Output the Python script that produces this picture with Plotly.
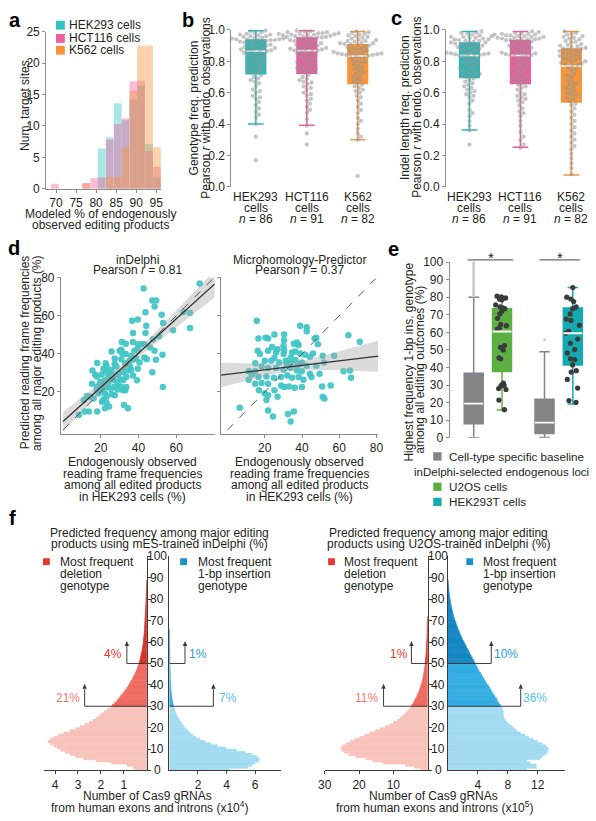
import math
import numpy as np
import plotly.graph_objects as go

W, H = 596, 821
FONT = "Liberation Sans, Arial, Helvetica, sans-serif"
TXT = "#231f20"
AXC = "#8c8c8c"
FAX = "#3c3c3c"

# ================= DATA =================
# ---- panel a: histogram of modeled % (bin centres / heights)
a_bins = [69.7, 77.5, 79.5, 81.4, 83.4, 85.4, 87.3, 89.3, 91.2, 93.2, 95.2]
a_hek293 = [0, 0, 0, 6.4, 8.2, 13.6, 10.9, 14.2, 16.4, 7.1, 1.8]
a_hct116 = [0.8, 0.9, 1.7, 1.8, 7.8, 10.3, 11.2, 17.1, 17.2, 6.0, 3.5]
a_k562 = [0, 0.9, 0, 0, 1.9, 1.9, 6.6, 15.6, 22.8, 22.8, 6.6]
a_names = ["HEK293 cells", "HCT116 cells", "K562 cells"]
a_xticks = [70, 75, 80, 85, 90, 95]
a_yticks = [0, 5, 10, 15, 20, 25]

# ---- panels b, c
bc_cells = ["HEK293", "HCT116", "K562"]
bc_n = [86, 91, 82]
b_hek293 = [0.995, 0.99, 0.985, 0.98, 0.975, 0.97, 0.97, 0.965, 0.96, 0.96, 0.955, 0.95, 0.95, 0.945, 0.945, 0.94, 0.94, 0.94, 0.935, 0.935, 0.935,
            0.93, 0.93, 0.925, 0.92, 0.92, 0.915, 0.91, 0.905, 0.90, 0.90, 0.895, 0.89, 0.885, 0.88, 0.88, 0.875, 0.87, 0.87, 0.865, 0.865, 0.86,
            0.855, 0.85, 0.845, 0.84, 0.835, 0.83, 0.82, 0.815, 0.81, 0.80, 0.80, 0.79, 0.785, 0.78, 0.77, 0.765, 0.76, 0.75, 0.745, 0.74, 0.73, 0.725,
            0.71, 0.70, 0.69, 0.68, 0.67, 0.66, 0.64, 0.62, 0.61, 0.60, 0.58, 0.57, 0.56, 0.54, 0.52, 0.50, 0.48, 0.46, 0.44, 0.40, 0.32, 0.17]
b_hct116 = [0.995, 0.99, 0.99, 0.985, 0.985, 0.98, 0.98, 0.978, 0.975, 0.975, 0.972, 0.97, 0.97, 0.968, 0.965, 0.962, 0.96, 0.958, 0.955, 0.955, 0.952, 0.95, 0.95,
            0.945, 0.94, 0.935, 0.93, 0.93, 0.925, 0.92, 0.915, 0.91, 0.905, 0.90, 0.90, 0.895, 0.89, 0.885, 0.88, 0.88, 0.875, 0.875, 0.87, 0.87, 0.868,
            0.86, 0.855, 0.85, 0.845, 0.84, 0.835, 0.83, 0.82, 0.815, 0.81, 0.80, 0.795, 0.79, 0.78, 0.775, 0.77, 0.76, 0.755, 0.75, 0.745, 0.74, 0.73, 0.725,
            0.715, 0.70, 0.69, 0.68, 0.67, 0.665, 0.655, 0.64, 0.63, 0.62, 0.60, 0.59, 0.58, 0.56, 0.55, 0.53, 0.51, 0.49, 0.47, 0.43, 0.39, 0.34, 0.27]
b_k562 = [0.99, 0.985, 0.98, 0.975, 0.97, 0.965, 0.96, 0.955, 0.95, 0.945, 0.94, 0.935, 0.93, 0.93, 0.925, 0.92, 0.915, 0.915, 0.91, 0.91,
          0.905, 0.90, 0.895, 0.89, 0.885, 0.88, 0.875, 0.87, 0.865, 0.86, 0.855, 0.855, 0.85, 0.85, 0.85, 0.845, 0.845, 0.84, 0.84, 0.835, 0.835,
          0.83, 0.825, 0.82, 0.81, 0.80, 0.795, 0.79, 0.78, 0.77, 0.76, 0.75, 0.74, 0.73, 0.72, 0.71, 0.70, 0.69, 0.68, 0.67, 0.66,
          0.65, 0.64, 0.63, 0.62, 0.61, 0.60, 0.58, 0.57, 0.55, 0.53, 0.51, 0.49, 0.47, 0.44, 0.42, 0.40, 0.37, 0.34, 0.32, 0.30, 0.07]
b_q1 = [0.72, 0.724, 0.659]
b_med = [0.865, 0.868, 0.833]
b_q3 = [0.935, 0.948, 0.906]
b_lo = [0.40, 0.393, 0.30]
b_hi = [0.995, 0.995, 0.99]

c_hek293 = [0.99, 0.985, 0.98, 0.975, 0.97, 0.965, 0.96, 0.955, 0.955, 0.95, 0.95, 0.945, 0.94, 0.94, 0.935, 0.93, 0.93, 0.925, 0.92, 0.92, 0.918,
            0.912, 0.91, 0.905, 0.90, 0.90, 0.895, 0.89, 0.885, 0.88, 0.875, 0.87, 0.865, 0.86, 0.855, 0.85, 0.85, 0.845, 0.845, 0.84, 0.84, 0.838, 0.836,
            0.83, 0.82, 0.815, 0.81, 0.80, 0.795, 0.79, 0.78, 0.775, 0.77, 0.76, 0.755, 0.75, 0.74, 0.735, 0.73, 0.72, 0.715, 0.71, 0.705, 0.70,
            0.69, 0.68, 0.67, 0.66, 0.65, 0.64, 0.63, 0.62, 0.61, 0.60, 0.59, 0.58, 0.57, 0.55, 0.53, 0.49, 0.47, 0.45, 0.42, 0.39, 0.36, 0.27]
c_hct116 = [0.99, 0.985, 0.98, 0.98, 0.975, 0.975, 0.97, 0.97, 0.965, 0.965, 0.96, 0.96, 0.955, 0.955, 0.95, 0.95, 0.945, 0.945, 0.94, 0.94, 0.94, 0.935, 0.935,
            0.93, 0.925, 0.92, 0.915, 0.91, 0.905, 0.90, 0.895, 0.89, 0.885, 0.88, 0.875, 0.87, 0.865, 0.86, 0.855, 0.85, 0.85, 0.845, 0.84, 0.84, 0.838,
            0.835, 0.83, 0.82, 0.81, 0.80, 0.795, 0.79, 0.78, 0.77, 0.76, 0.755, 0.75, 0.74, 0.73, 0.72, 0.71, 0.70, 0.695, 0.69, 0.68, 0.675, 0.67, 0.66,
            0.65, 0.64, 0.63, 0.62, 0.60, 0.59, 0.58, 0.57, 0.56, 0.55, 0.54, 0.52, 0.50, 0.48, 0.47, 0.45, 0.42, 0.39, 0.35, 0.32, 0.30, 0.27, 0.25]
c_k562 = [0.99, 0.98, 0.975, 0.97, 0.96, 0.955, 0.95, 0.945, 0.94, 0.93, 0.925, 0.92, 0.91, 0.905, 0.90, 0.895, 0.89, 0.885, 0.88, 0.88,
          0.875, 0.87, 0.865, 0.86, 0.855, 0.85, 0.845, 0.84, 0.835, 0.83, 0.825, 0.82, 0.815, 0.81, 0.80, 0.80, 0.79, 0.785, 0.78, 0.775, 0.772,
          0.76, 0.75, 0.74, 0.72, 0.71, 0.70, 0.68, 0.67, 0.66, 0.65, 0.64, 0.63, 0.62, 0.61, 0.60, 0.59, 0.58, 0.57, 0.56, 0.545,
          0.53, 0.52, 0.50, 0.48, 0.46, 0.44, 0.42, 0.40, 0.38, 0.36, 0.34, 0.32, 0.30, 0.28, 0.26, 0.24, 0.21, 0.18, 0.15, 0.12, 0.08]
c_q1 = [0.697, 0.659, 0.54]
c_med = [0.837, 0.837, 0.77]
c_q3 = [0.916, 0.933, 0.879]
c_lo = [0.362, 0.253, 0.075]
c_hi = [0.99, 0.99, 0.99]
bc_yticks = [0.0, 0.2, 0.4, 0.6, 0.8, 1.0]

# ---- panel d: (observed, predicted) pairs
d_indelphi = [(42.7, 74.3), (72.4, 76.9), (49.4, 68.0), (47.3, 68.0), (48.5, 64.9), (63.8, 62.0), (43.7, 61.9), (67.3, 61.4),
              (36.6, 57.4), (39.6, 58.0), (52.3, 60.5), (53.1, 56.2), (58.3, 52.4), (44.1, 54.8), (37.1, 51.0), (43.7, 51.0),
              (67.3, 53.6), (31.2, 46.2), (37.0, 46.2), (33.2, 45.3), (39.6, 45.0), (41.3, 45.0), (43.1, 45.0), (47.7, 47.6),
              (50.9, 49.3), (46.1, 43.3), (48.5, 41.6), (52.7, 39.5), (39.6, 42.4), (43.1, 38.1), (44.4, 37.2), (49.2, 36.9),
              (30.9, 42.1), (31.4, 40.3), (25.7, 41.2), (27.4, 37.6), (30.9, 37.2), (33.0, 35.0), (35.2, 36.4), (37.0, 36.9),
              (38.7, 37.6), (40.5, 35.5), (27.4, 34.7), (22.6, 35.0), (18.1, 35.2), (21.4, 32.1), (22.8, 31.2), (15.6, 31.2),
              (17.1, 29.0), (20.5, 29.1), (24.0, 28.6), (25.7, 29.5), (29.2, 29.5), (31.8, 30.3), (34.4, 31.2), (36.1, 31.6),
              (39.6, 32.1), (33.5, 27.8), (37.0, 28.6), (39.2, 26.1), (30.1, 26.9), (31.8, 26.1), (26.8, 26.4), (22.2, 26.1),
              (19.7, 25.2), (15.3, 24.3), (18.1, 22.9), (20.6, 23.4), (23.1, 22.6), (27.4, 22.9), (30.9, 22.6), (33.5, 22.6),
              (33.0, 20.9), (17.9, 28.1), (47.3, 30.3), (52.9, 22.6), (32.3, 13.1), (34.4, 11.4), (11.0, 15.7), (12.7, 17.8),
              (14.5, 17.4), (16.2, 16.6), (18.8, 19.1), (22.2, 19.1), (23.1, 17.4), (25.7, 18.8), (21.4, 16.0), (20.6, 14.8),
              (23.1, 14.3), (24.4, 12.3), (22.2, 11.4), (18.1, 9.7), (11.5, 9.7), (13.7, 9.7), (8.4, 7.9), (24.0, 24.3),
              (25.3, 21.7), (20.6, 20.9), (17.9, 20.9), (27.4, 18.3), (28.8, 21.2), (31.8, 20.9), (30.0, 41.6), (33.2, 39.9),
              (28.3, 33.3), (25.7, 31.6), (23.1, 33.3), (36.1, 38.8), (37.8, 41.6), (29.0, 24.5), (26.0, 27.0), (35.5, 33.5)]
d_mhpred = [(15.7, 57.4), (20.4, 48.4), (16.6, 48.1), (21.8, 48.1), (25.2, 50.2), (30.4, 50.2), (30.4, 47.1), (39.0, 54.8),
            (42.5, 54.0), (42.5, 51.9), (47.7, 48.4), (46.8, 48.1), (48.5, 45.0), (35.6, 45.3), (37.3, 45.9), (38.2, 44.7),
            (64.9, 49.7), (71.0, 46.4), (16.2, 41.6), (17.4, 39.9), (21.8, 41.6), (24.0, 43.6), (26.9, 42.4), (26.1, 40.7),
            (30.4, 41.9), (30.1, 39.9), (34.7, 40.7), (39.0, 40.2), (41.6, 39.5), (45.9, 40.2), (44.2, 38.5), (51.1, 39.0),
            (57.2, 39.0), (51.8, 35.5), (47.7, 33.8), (14.9, 35.0), (20.0, 36.4), (23.5, 36.4), (25.2, 37.8), (27.8, 35.5),
            (31.3, 36.4), (33.9, 35.5), (36.4, 36.7), (39.0, 34.7), (42.5, 33.8), (18.3, 33.3), (21.8, 32.6), (26.1, 32.6),
            (30.1, 31.6), (33.9, 32.6), (37.3, 31.2), (39.9, 30.9), (44.2, 29.5), (49.4, 29.5), (62.3, 30.9), (65.8, 31.2),
            (66.3, 27.4), (13.1, 29.1), (11.4, 26.4), (16.6, 27.8), (20.9, 28.1), (24.9, 27.4), (28.7, 27.8), (32.1, 28.6),
            (34.7, 27.4), (38.2, 27.8), (40.8, 26.4), (14.9, 24.3), (18.3, 24.7), (21.8, 24.3), (28.7, 23.4), (30.4, 22.6),
            (33.0, 22.9), (36.1, 22.2), (39.9, 22.6), (45.1, 27.8), (50.8, 22.9), (55.4, 23.4), (51.1, 17.4), (52.0, 16.6),
            (16.9, 20.9), (20.0, 19.1), (21.8, 18.3), (20.9, 15.7), (25.2, 20.9), (26.9, 17.4), (21.8, 10.2), (24.4, 7.1),
            (6.6, 11.7), (32.5, 8.4), (35.6, 9.7), (33.9, 4.5), (11.4, 30.9), (14.9, 30.9), (33.9, 38.1), (31.8, 34.7),
            (37.3, 33.8), (39.9, 35.5), (36.4, 41.2), (30.1, 44.2)]
d_titles = ["inDelphi", "Microhomology-Predictor"]
d_r = ["0.81", "0.37"]

# ---- panel e
e_groups = ["baseline U2OS", "U2OS cells", "baseline HEK293T", "HEK293T cells"]
e_q1 = [8.0, 37.8, 2.4, 41.5]
e_med = [19.5, 60.5, 8.7, 59.5]
e_q3 = [36.7, 73.5, 22.0, 73.9]
e_lo = [0.0, 15.8, 0.2, 19.2]
e_hi = [80.0, 80.6, 49.0, 85.6]
e_base1_outliers = [80.6, 81.4, 82.2, 83.0, 83.9, 84.7, 85.5, 86.4, 87.2, 88.1, 89.0, 89.8, 90.7, 91.6, 92.4,
                    93.3, 94.2, 95.1, 96.0, 96.9, 97.8, 98.7, 99.5]
e_base2_outliers = [55.8]
e_u2os = [80.6, 80.2, 79.5, 78.8, 78.5, 75.6, 74.5, 74.0, 73.5, 72.0, 70.5, 68.0, 64.5, 63.8, 62.5, 61.8,
          52.5, 51.5, 50.0, 45.5, 45.0, 31.2, 30.2, 29.8, 29.5, 28.0, 27.5, 21.5, 16.0]
e_hek293t = [85.5, 80.0, 79.0, 77.5, 74.5, 73.5, 70.5, 67.6, 66.8, 64.0, 60.6, 59.6, 56.2, 53.8, 50.2, 48.2,
             45.0, 44.5, 41.5, 38.2, 37.4, 33.2, 28.3, 21.2, 20.2]
e_yticks = [0, 10, 20, 30, 40, 50, 60, 70, 80, 90, 100]

# ---- panel f: per-1% bins of predicted frequency, counts of gRNAs
f_mes_del = [0.5, 0.6, 0.85, 1.55, 2.2, 2.75, 3.1, 3.35, 3.55, 3.75,
             3.9, 4.05, 4.2, 4.3, 4.2, 4.05, 3.85, 3.6, 3.35, 3.1,
             2.9, 2.7, 2.5, 2.35, 2.2, 2.07, 1.97, 1.86, 1.72, 1.6,
             1.5, 1.4, 1.3, 1.22, 1.15, 1.08, 1.0, 0.93, 0.87, 0.8,
             0.75, 0.7, 0.64, 0.6, 0.55, 0.5, 0.46, 0.42, 0.39, 0.36,
             0.33, 0.3, 0.28, 0.26, 0.24, 0.22, 0.2, 0.19, 0.17, 0.16,
             0.15, 0.14, 0.13, 0.12, 0.115, 0.11, 0.1, 0.095, 0.09, 0.085,
             0.08, 0.075, 0.07, 0.065, 0.06, 0.055, 0.05, 0.045, 0.04, 0.035,
             0.03, 0.027, 0.024, 0.02, 0.017, 0.014, 0.01, 0.007, 0.004]
f_mes_ins = [4.2, 5.5, 5.8, 6.0, 6.25, 6.3, 6.1, 5.8, 5.3, 4.7,
             3.95, 3.35, 2.9, 2.5, 2.15, 1.85, 1.62, 1.44, 1.3, 1.16,
             1.02, 0.9, 0.8, 0.7, 0.6, 0.53, 0.46, 0.4, 0.35, 0.31,
             0.27, 0.24, 0.21, 0.18, 0.16, 0.14, 0.125, 0.11, 0.1, 0.09,
             0.08, 0.072, 0.065, 0.06, 0.055, 0.05, 0.046, 0.042, 0.038, 0.035,
             0.032, 0.029, 0.026, 0.024, 0.022, 0.02, 0.018, 0.016, 0.014, 0.013,
             0.012, 0.01, 0.009, 0.008, 0.006, 0.005]
f_u2os_del = [2.0, 3.8, 6.5, 13.0, 16.0, 18.0, 21.0, 23.0, 24.3, 25.0,
              25.3, 24.8, 23.8, 22.5, 21.2, 19.8, 18.3, 16.8, 15.3, 13.8,
              12.3, 11.0, 9.9, 8.9, 8.0, 7.3, 6.6, 6.0, 5.5, 5.0,
              4.6, 4.2, 3.8, 3.5, 3.2, 2.9, 2.65, 2.4, 2.2, 2.0,
              1.8, 1.65, 1.5, 1.35, 1.22, 1.1, 1.0, 0.92, 0.84, 0.76,
              0.7, 0.64, 0.58, 0.52, 0.47, 0.43, 0.39, 0.35, 0.32, 0.29,
              0.26, 0.23, 0.21, 0.19, 0.17, 0.15, 0.13, 0.11, 0.1, 0.08,
              0.06, 0.04]
f_u2os_ins = [10.5, 11.8, 11.8, 11.0, 10.5, 12.3, 12.6, 13.0, 13.3, 13.4,
              13.4, 13.1, 12.6, 12.0, 11.4, 10.8, 10.3, 9.7, 9.2, 8.9,
              8.6, 8.2, 7.9, 7.7, 7.5, 7.4, 7.4, 7.4, 7.3, 7.2,
              7.0, 6.8, 6.6, 6.5, 6.3, 6.1, 5.9, 5.75, 5.6, 5.4,
              5.2, 5.0, 4.85, 4.7, 4.5, 4.35, 4.15, 4.0, 3.85, 3.7,
              3.55, 3.4, 3.25, 3.1, 2.95, 2.8, 2.65, 2.5, 2.35, 2.2,
              2.05, 1.9, 1.78, 1.65, 1.53, 1.42, 1.3, 1.2, 1.1, 1.0,
              0.9, 0.8, 0.72, 0.65, 0.58, 0.52, 0.46, 0.4, 0.35, 0.3,
              0.26, 0.22, 0.18, 0.15, 0.12, 0.09, 0.06, 0.04, 0.02]
f_pct_mes = {"del30": "21%", "del50": "4%", "ins30": "7%", "ins50": "1%"}
f_pct_u2os = {"del30": "11%", "del50": "1%", "ins30": "36%", "ins50": "10%"}
f_yticks = [0, 10, 20, 30, 40, 50, 60, 70, 80, 90, 100]

# ================= STYLE =================
C_HEK = "#27b9b9"
C_HCT = "#ec5c9d"
C_K562 = "#f6953b"
C_A = ["#34c3c3", "#f0609e", "#f7923a"]
C_D = "#3ec4c4"
C_EG = "#828487"
C_EGREEN = "#5cb043"
C_ETEAL = "#14aab0"
DEL_C = ["#f8c3bb", "#ee6a5f", "#dc2f26"]
INS_C = ["#a3dbf1", "#33ade2", "#1486c4"]
DEL_TXT = ["#f07b70", "#e5392f"]
INS_TXT = ["#52bfea", "#1f9bd6"]


def px(x):
    return x / W


def py(y):
    return 1 - y / H


ann = []
shapes = []


def T(x, y, s, size=12, xa="center", ya="middle", angle=0, color=TXT):
    ann.append(dict(x=px(x), y=py(y), xref="paper", yref="paper", text=s, showarrow=False,
                    xanchor=xa, yanchor=ya, textangle=angle,
                    font=dict(size=size, color=color, family=FONT)))


def square(x0, x1, y0, y1, color):
    shapes.append(dict(type="rect", xref="paper", yref="paper", x0=px(x0), x1=px(x1),
                       y0=py(y1), y1=py(y0), fillcolor=color, line=dict(width=0)))


def axis(dom, rng, **kw):
    d = dict(domain=dom, range=rng, showgrid=False, zeroline=False, showline=True,
             linecolor=AXC, linewidth=1, ticks="outside", ticklen=3, tickcolor=AXC,
             tickfont=dict(size=12, color=TXT, family=FONT), fixedrange=True)
    d.update(kw)
    return d


def swarm(vals, dpx, yscale, xscale):
    order = sorted(range(len(vals)), key=lambda i: vals[i])
    placed = []
    offs = [0.0] * len(vals)
    for i in order:
        y = vals[i] * yscale
        cands = [0.0]
        for (qx, qy) in placed:
            dy = y - qy
            if abs(dy) < dpx:
                dx = math.sqrt(dpx * dpx - dy * dy)
                cands += [qx + dx, qx - dx]
        cands.sort(key=abs)
        for c in cands:
            if all((c - qx) ** 2 + (y - qy) ** 2 >= dpx * dpx - 1e-6 for (qx, qy) in placed):
                break
        placed.append((c, y))
        offs[i] = c / xscale
    return offs


fig = go.Figure()

# ================= PANEL a =================
for vals, col, nm in zip([a_hek293, a_hct116, a_k562], C_A, a_names):
    fig.add_trace(go.Bar(x=a_bins, y=vals, width=1.95, marker=dict(color=col, line=dict(width=0)),
                         opacity=0.42, name=nm, xaxis="x", yaxis="y"))
for i, (nm, col) in enumerate(zip(a_names, C_A)):
    yc = [18.5, 32.0, 44.0][i]
    square(50, 59, yc - 4.5, yc + 4.5, col)
    T(61.5, yc, nm, xa="left")
T(95, 211, "Modeled % of endogenously")
T(95, 222, "observed editing products")
T(19, 100, "Num. target sites", angle=-90)

# ================= PANELS b, c =================
BW = 0.385
for panel, groups, q1, med, q3, lo, hi, xa, ya in [
        ("b", [b_hek293, b_hct116, b_k562], b_q1, b_med, b_q3, b_lo, b_hi, "x2", "y2"),
        ("c", [c_hek293, c_hct116, c_k562], c_q1, c_med, c_q3, c_lo, c_hi, "x3", "y3")]:
    for k, col in enumerate([C_HEK, C_HCT, C_K562]):
        fig.add_trace(go.Box(x=[k], q1=[q1[k]], median=[med[k]], q3=[q3[k]], lowerfence=[lo[k]],
                             upperfence=[hi[k]], width=BW, whiskerwidth=0.8, fillcolor=col,
                             line=dict(color=col, width=1.5), boxpoints=False, xaxis=xa, yaxis=ya))
    mx, my = [], []
    for k in range(3):
        mx += [k - BW / 2, k + BW / 2, None]
        my += [med[k], med[k], None]
    fig.add_trace(go.Scatter(x=mx, y=my, mode="lines", line=dict(color="white", width=1.8),
                             xaxis=xa, yaxis=ya, hoverinfo="skip"))
    for k, vals in enumerate(groups):
        offs = swarm(vals, 4.5, 160.0, 52.0)
        fig.add_trace(go.Scatter(x=[k + o for o in offs], y=vals, mode="markers",
                                 marker=dict(size=4.3, color="rgba(150,150,150,0.55)"),
                                 cliponaxis=False, xaxis=xa, yaxis=ya))

# category labels b / c
for centers in ([254, 306, 358], [472, 524, 576]):
    for k, cx in enumerate(centers):
        T(cx, 193, bc_cells[k])
        T(cx, 204.5, "cells")
        T(cx, 216, "<i>n</i> = %d" % bc_n[k])
T(191, 103, "Genotype freq. prediction", angle=-90)
T(203.5, 103, "Pearson <i>r</i> with endo. observations", angle=-90)
T(406, 102, "Indel length freq. prediction", angle=-90)
T(419, 102, "Pearson <i>r</i> with endo. observations", angle=-90)

# ================= PANEL d =================
def fit_band(pts, xg):
    x = np.array([p[0] for p in pts])
    y = np.array([p[1] for p in pts])
    n = len(x)
    b1, b0 = np.polyfit(x, y, 1)
    res = y - (b0 + b1 * x)
    s = np.sqrt(np.sum(res ** 2) / (n - 2))
    sxx = np.sum((x - x.mean()) ** 2)
    se = s * np.sqrt(1.0 / n + (xg - x.mean()) ** 2 / sxx)
    f = b0 + b1 * xg
    return f, f - 1.98 * se, f + 1.98 * se


for pts, xa, ya, xr in [(d_indelphi, "x4", "y4", (0.0, 80.4)), (d_mhpred, "x5", "y5", (-3.7, 81.0))]:
    fig.add_trace(go.Scatter(x=[p[0] for p in pts], y=[p[1] for p in pts], mode="markers",
                             marker=dict(size=6.5, color=C_D, opacity=0.92), xaxis=xa, yaxis=ya))
    xg = np.linspace(xr[0], xr[1], 120)
    f, lo_, hi_ = fit_band(pts, xg)
    fig.add_trace(go.Scatter(x=xg, y=hi_, mode="lines", line=dict(width=0), xaxis=xa, yaxis=ya,
                             hoverinfo="skip"))
    fig.add_trace(go.Scatter(x=xg, y=lo_, mode="lines", line=dict(width=0), fill="tonexty",
                             fillcolor="rgba(165,165,165,0.4)", xaxis=xa, yaxis=ya, hoverinfo="skip"))
    fig.add_trace(go.Scatter(x=[0, 80.5], y=[0, 80.5], mode="lines",
                             line=dict(color="#555555", width=1, dash="8px,9px"), xaxis=xa, yaxis=ya))
    fig.add_trace(go.Scatter(x=xg, y=f, mode="lines", line=dict(color="#333333", width=1.3),
                             xaxis=xa, yaxis=ya))

for cx, ttl, r in zip([133, 299], d_titles, d_r):
    T(cx, 257, ttl)
    T(cx, 267.5, "Pearson <i>r</i> = " + r)
    for j, line in enumerate(["Endogenously observed", "reading frame frequencies",
                              "among all edited products", "in HEK293 cells (%)"]):
        T(cx - 5 if cx == 133 else cx, [462.7, 475, 486.7, 498.3][j], line)
T(18.5, 352, "Predicted reading frame frequencies", angle=-90)
T(30.5, 352, "among all major editing products (%)", angle=-90)

# ================= PANEL e =================
e_pos = [0, 1, 2.5, 3.5]
EW = 0.67
e_cols = [C_EG, C_EGREEN, C_EG, C_ETEAL]
for k in range(4):
    fig.add_trace(go.Box(x=[e_pos[k]], q1=[e_q1[k]], median=[e_med[k]], q3=[e_q3[k]],
                         lowerfence=[e_lo[k]], upperfence=[e_hi[k]], width=EW, whiskerwidth=0.55,
                         fillcolor=e_cols[k], line=dict(color=e_cols[k], width=1.5),
                         boxpoints=False, xaxis="x6", yaxis="y6"))
mx, my = [], []
for k in range(4):
    mx += [e_pos[k] - EW / 2, e_pos[k] + EW / 2, None]
    my += [e_med[k], e_med[k], None]
fig.add_trace(go.Scatter(x=mx, y=my, mode="lines", line=dict(color="white", width=1.8),
                         xaxis="x6", yaxis="y6", hoverinfo="skip"))
fig.add_trace(go.Scatter(x=[e_pos[0]] * len(e_base1_outliers), y=e_base1_outliers, mode="markers",
                         marker=dict(size=2.8, color="#c9c9c9"), xaxis="x6", yaxis="y6", cliponaxis=False))
fig.add_trace(go.Scatter(x=[e_pos[2]] * len(e_base2_outliers), y=e_base2_outliers, mode="markers",
                         marker=dict(size=2.8, color="#c9c9c9"), xaxis="x6", yaxis="y6", cliponaxis=False))
for k, vals in [(1, e_u2os), (3, e_hek293t)]:
    fig.add_trace(go.Box(x=[e_pos[k]] * len(vals), y=vals, width=EW, boxpoints="all", jitter=0.85,
                         pointpos=0, fillcolor="rgba(0,0,0,0)", line=dict(width=0),
                         marker=dict(size=5.2, color="#3b3b3b"), xaxis="x6", yaxis="y6"))
# significance
shapes.append(dict(type="line", xref="paper", yref="paper", x0=px(470), x1=px(516.7), y0=py(257.3),
                   y1=py(257.3), line=dict(color="#6d6d6d", width=1.2)))
shapes.append(dict(type="line", xref="paper", yref="paper", x0=px(543.3), x1=px(585), y0=py(257.3),
                   y1=py(257.3), line=dict(color="#6d6d6d", width=1.2)))
T(494.3, 255, "*", size=15)
T(564, 255, "*", size=15)
T(410, 361, "Highest frequency 1-bp ins. genotype", angle=-90)
T(421.5, 369, "among all editing outcomes (%)", angle=-90)
square(435, 443.5, 453, 461.5, C_EG)
T(449.3, 457.5, "Cell-type specific baseline", xa="left", size=11.7)
T(413.5, 472.7, "inDelphi-selected endogenous loci", xa="left", size=11.5)
square(435, 443.5, 483.8, 492.3, C_EGREEN)
T(449.3, 488, "U2OS cells", xa="left", size=11.7)
square(435, 443.5, 499.3, 507.8, C_ETEAL)
T(449.3, 503.5, "HEK293T cells", xa="left", size=11.7)

# ================= PANEL f =================
def fcolors(n, pal):
    out = []
    for i in range(n):
        c = i + 0.5
        out.append(pal[0] if c < 30 else (pal[1] if c < 50 else pal[2]))
    return out


for vals, pal, xa, ya in [(f_mes_del, DEL_C, "x7", "y7"), (f_mes_ins, INS_C, "x8", "y8"),
                          (f_u2os_del, DEL_C, "x9", "y9"), (f_u2os_ins, INS_C, "x10", "y10")]:
    yb = [i + 0.5 for i in range(len(vals))]
    cols = fcolors(len(vals), pal)
    fig.add_trace(go.Bar(y=yb, x=vals, orientation="h", width=1.0,
                         marker=dict(color=cols, line=dict(width=0.6, color=cols)),
                         xaxis=xa, yaxis=ya))

# threshold arrows: (axis, x position of the vertical arrow, threshold)
f_arrows = [("x7", "y7", 2.71, 30), ("x7", "y7", 0.87, 50), ("x8", "y8", 1.09, 50), ("x8", "y8", 3.08, 30),
            ("x9", "y9", 12.86, 30), ("x9", "y9", 4.74, 50), ("x10", "y10", 5.8, 50), ("x10", "y10", 9.74, 30)]
xpx_per_unit = {"x7": 105.4 / 4.5, "x8": 113.5 / 7.8, "x9": 105.0 / 30, "x10": 119.0 / 15.6}
ypx_per_unit = 217.7 / 100
for xa, ya, xv, thr in f_arrows:
    shapes.append(dict(type="line", xref=xa, yref=ya, x0=0, x1=xv, y0=thr, y1=thr,
                       line=dict(color=FAX, width=1), layer="above"))
    tip = thr + 10.5
    hh = 5.0 / ypx_per_unit
    hw = 2.3 / xpx_per_unit[xa]
    shapes.append(dict(type="line", xref=xa, yref=ya, x0=xv, x1=xv, y0=thr, y1=tip - hh,
                       line=dict(color=FAX, width=1), layer="above"))
    shapes.append(dict(type="path", xref=xa, yref=ya, layer="above", fillcolor=FAX, line=dict(width=0),
                       path="M %f,%f L %f,%f L %f,%f Z" % (xv - hw, tip - hh, xv + hw, tip - hh, xv, tip)))

# percentage labels
T(77, 702.7, f_pct_mes["del30"], xa="right", color=DEL_TXT[0])
T(108, 658.3, f_pct_mes["del50"], color=DEL_TXT[1])
T(195, 658.3, f_pct_mes["ins50"], color=INS_TXT[1])
T(225.7, 702.7, f_pct_mes["ins30"], color=INS_TXT[0])
T(367, 702.7, f_pct_u2os["del30"], color=DEL_TXT[0])
T(400.3, 658.3, f_pct_u2os["del50"], color=DEL_TXT[1])
T(509.5, 658.3, f_pct_u2os["ins50"], color=INS_TXT[1])
T(539.3, 702.7, f_pct_u2os["ins30"], color=INS_TXT[0])

# central y tick labels
for cx, ya in [(153.5, "y7"), (440, "y9")]:
    for v in f_yticks:
        ann.append(dict(x=px(cx), y=v, xref="paper", yref=ya, text=str(v), showarrow=False,
                        xanchor="center", yanchor="middle", font=dict(size=12, color=TXT, family=FONT)))

# titles and legends
T(156, 535, "Predicted frequency among major editing")
T(155.5, 546, "products using mES-trained inDelphi (%)")
T(440.3, 535, "Predicted frequency among major editing")
T(440, 546, "products using U2OS-trained inDelphi (%)")
for sx, tx, col, lines in [(36.7, 51.7, "#e5392f", ["Most frequent", "deletion", "genotype"]),
                           (176.7, 192.7, "#1b93d1", ["Most frequent", "1-bp insertion", "genotype"]),
                           (327.7, 342, "#e5392f", ["Most frequent", "deletion", "genotype"]),
                           (468.7, 483.3, "#1b93d1", ["Most frequent", "1-bp insertion", "genotype"])]:
    square(sx, sx + 7, 560.8, 567.8, col)
    for j, ln in enumerate(lines):
        T(tx, [564.5, 576.7, 589][j], ln, xa="left")
T(143.3, 802.7, "Number of Cas9 gRNAs")
T(145, 813.5, "from human exons and introns (x10<sup>4</sup>)")
T(435.3, 802.7, "Number of Cas9 gRNAs")
T(436, 813.5, "from human exons and introns (x10<sup>5</sup>)")

# panel letters
for ch, x, y in [("a", 8, 13), ("b", 185, 13), ("c", 397, 11), ("d", 7, 245), ("e", 394, 246), ("f", 6, 520)]:
    T(x, y, "<b>%s</b>" % ch, size=20, color="#000000")

# ================= LAYOUT =================
ydom_bc = [py(183), py(23.3)]
ydom_d = [py(434), py(275)]
ydom_f = [py(776.7), py(559)]
layout = dict(
    width=W, height=H, margin=dict(l=0, r=0, t=0, b=0), showlegend=False,
    paper_bgcolor="white", plot_bgcolor="white", barmode="overlay", boxmode="overlay",
    font=dict(family=FONT, size=12, color=TXT),
    xaxis=axis([px(40), px(157)], [67.55, 96.15], anchor="y", tickvals=a_xticks),
    yaxis=axis([py(185), py(25)], [0, 25], anchor="x", tickvals=a_yticks),
    xaxis2=axis([px(229), px(385)], [-0.48, 2.52], anchor="y2", visible=False),
    yaxis2=axis(ydom_bc, [0, 1], anchor="x2", tickvals=bc_yticks, tickformat=".1f"),
    xaxis3=axis([px(448), px(596)], [-0.46, 2.385], anchor="y3", visible=False),
    yaxis3=axis(ydom_bc, [0, 1], anchor="x3", tickvals=bc_yticks, tickformat=".1f"),
    xaxis4=axis([px(55), px(212)], [-1.14, 80.4], anchor="y4", tickvals=[20, 40, 60]),
    yaxis4=axis(ydom_d, [-1.9, 80.2], anchor="x4", tickvals=[20, 40, 60, 80]),
    xaxis5=axis([px(218), px(379)], [-3.7, 81.0], anchor="y5", tickvals=[20, 40, 60, 80]),
    yaxis5=axis(ydom_d, [-1.9, 80.2], anchor="x5", tickvals=[20, 40, 60, 80], showticklabels=False),
    xaxis6=axis([px(451.7), px(594.8)], [-0.85, 4.1], anchor="y6", visible=False),
    yaxis6=axis([py(438.3), py(259.5)], [0, 100], anchor="x6", tickvals=e_yticks),
    xaxis7=axis([px(37.3), px(142.7)], [4.5, 0], anchor="y7", tickvals=[1, 2, 3, 4], linecolor=FAX, tickcolor=FAX),
    yaxis7=axis(ydom_f, [0, 100], anchor="x7", side="right", tickvals=f_yticks, showticklabels=False,
                linecolor=FAX, tickcolor=FAX),
    xaxis8=axis([px(165.8), px(279.3)], [0, 7.8], anchor="y8", tickvals=[2, 4, 6], linecolor=FAX, tickcolor=FAX),
    yaxis8=axis(ydom_f, [0, 100], anchor="x8", ticks="", showticklabels=False, linecolor=FAX),
    xaxis9=axis([px(324.3), px(429.3)], [30, 0], anchor="y9", tickvals=[10, 20, 30], linecolor=FAX, tickcolor=FAX),
    yaxis9=axis(ydom_f, [0, 100], anchor="x9", side="right", tickvals=f_yticks, showticklabels=False,
                linecolor=FAX, tickcolor=FAX),
    xaxis10=axis([px(450), px(569)], [0, 15.6], anchor="y10", tickvals=[4, 8, 12], linecolor=FAX, tickcolor=FAX),
    yaxis10=axis(ydom_f, [0, 100], anchor="x10", ticks="", showticklabels=False, linecolor=FAX),
    annotations=ann, shapes=shapes,
)
fig.update_layout(**layout)
fig.write_html("out.html", config={"displayModeBar": False},
               post_script="document.body.style.margin='0';document.body.style.overflow='hidden';")
